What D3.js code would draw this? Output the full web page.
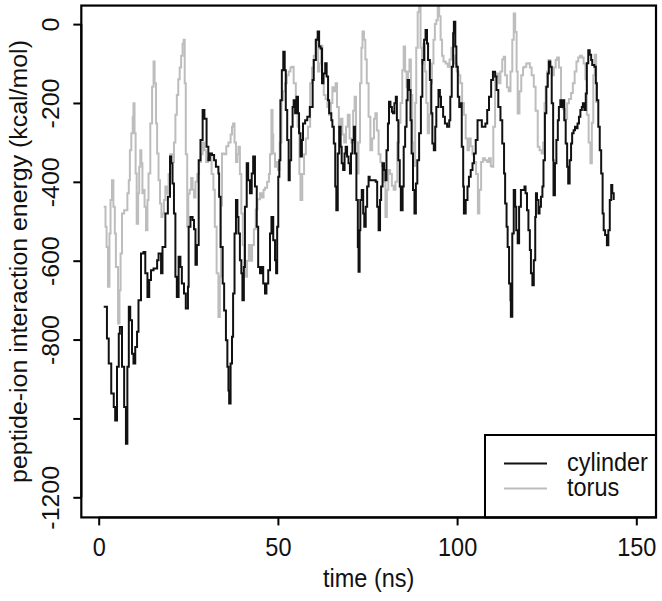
<!DOCTYPE html>
<html><head><meta charset="utf-8">
<script src="https://cdn.jsdelivr.net/npm/d3@7"></script>
<style>
body{margin:0;background:#fff}
svg{display:block}
text{font-family:"Liberation Sans",Arial,Helvetica,sans-serif;fill:#111}
</style>
</head><body>
<svg id="chart" width="662" height="601"></svg>
<script>
// ---- data ----
const cylTime = [1.4,2.3,2.8,3.5,4.2,4.6,5.1,5.6,5.9,6.5,7.1,7.6,8.0,8.4,8.8,9.3,9.7,10.2,10.7,11.1,11.8,12.5,13.0,13.6,14.1,14.6,15.3,16.3,16.7,17.4,17.8,18.6,19.3,19.9,20.2,20.6,21.0,21.4,21.8,22.3,22.8,23.2,23.8,24.3,24.9,25.1,25.6,26.2,26.6,27.0,27.4,27.9,28.4,29.0,29.5,30.1,30.6,31.0,31.6,32.2,32.7,33.4,33.6,34.0,34.6,35.0,35.5,35.9,36.2,36.4,36.8,37.2,37.5,37.9,38.3,38.7,39.0,39.4,39.8,40.1,40.5,40.8,41.3,41.7,42.2,42.7,43.1,43.6,44.1,44.5,45.0,45.4,45.9,46.4,46.8,47.3,47.8,48.2,48.7,49.2,49.5,49.8,50.1,50.4,50.7,51.1,51.5,51.9,52.2,52.6,53.0,53.3,53.7,54.1,54.4,54.8,55.2,55.6,55.9,56.3,56.7,57.0,57.6,58.2,58.9,59.7,60.0,60.6,61.1,61.5,61.9,62.3,62.7,63.2,63.6,64.0,64.3,64.9,65.2,65.6,66.0,66.3,66.7,67.1,67.5,67.8,68.2,68.6,68.9,69.3,69.7,70.1,70.4,70.8,71.2,71.5,71.9,72.3,72.5,72.8,73.0,73.4,73.8,74.1,74.5,74.9,75.3,75.6,76.2,76.8,77.3,77.7,78.1,78.5,78.8,79.2,79.6,80.0,80.3,80.7,81.0,81.4,81.8,82.1,82.5,82.9,83.2,83.6,84.0,84.3,84.8,85.1,85.5,85.9,86.2,86.6,87.0,87.3,87.7,88.1,88.5,88.9,89.4,89.9,90.3,90.8,91.2,91.6,91.9,92.4,92.8,93.1,93.5,93.9,94.2,94.8,95.2,95.5,96.1,96.6,97.2,97.8,98.1,98.5,98.9,99.1,99.5,99.8,100.2,100.6,100.9,101.3,101.7,101.9,102.4,102.9,103.3,103.8,104.3,104.7,105.2,105.7,106.3,106.9,107.4,107.9,108.4,108.9,109.5,110.0,110.6,111.0,111.5,112.1,112.6,113.1,113.4,113.8,114.1,114.5,114.9,115.0,115.4,115.8,116.2,116.5,116.9,117.3,117.8,118.2,118.8,119.1,119.5,119.9,120.3,120.6,121.0,121.4,121.8,122.0,122.3,122.7,123.0,123.4,123.8,124.1,124.5,124.9,125.3,125.6,126.0,126.4,126.8,126.9,127.3,127.7,128.1,128.4,128.8,129.2,129.5,129.9,130.3,130.7,131.0,131.4,131.8,132.1,132.5,132.9,133.3,133.6,134.0,134.4,134.8,135.1,135.5,135.9,136.2,136.6,137.0,137.4,137.7,138.3,138.7,139.0,139.4,139.8,140.2,140.6,140.9,141.3,141.8,142.2,142.6,143.0,143.3,143.7];
const cylEnergy = [-717,-797,-861,-937,-971,-1005,-869,-785,-768,-869,-971,-1064,-869,-717,-751,-836,-861,-819,-780,-700,-582,-578,-632,-692,-649,-624,-620,-599,-582,-632,-565,-480,-438,-336,-353,-404,-480,-641,-692,-590,-616,-658,-683,-721,-666,-514,-489,-497,-520,-610,-560,-345,-294,-218,-240,-311,-345,-328,-332,-345,-362,-379,-438,-565,-658,-726,-802,-869,-929,-962,-861,-793,-683,-531,-446,-489,-531,-599,-632,-700,-616,-463,-353,-396,-429,-379,-336,-412,-514,-616,-632,-616,-658,-683,-658,-624,-531,-489,-548,-599,-632,-514,-387,-345,-193,-117,-70,-117,-218,-294,-396,-345,-260,-210,-193,-226,-184,-226,-277,-336,-294,-252,-244,-235,-210,-142,-91,-40,-19,-57,-62,-150,-125,-99,-133,-193,-226,-244,-260,-303,-412,-472,-328,-260,-311,-353,-370,-328,-311,-336,-353,-379,-328,-294,-260,-328,-446,-565,-628,-523,-446,-421,-480,-514,-463,-412,-387,-396,-396,-396,-400,-463,-523,-446,-412,-353,-370,-396,-320,-252,-197,-210,-222,-226,-201,-184,-244,-345,-412,-472,-412,-311,-260,-193,-142,-167,-244,-328,-421,-480,-404,-345,-277,-184,-91,-40,-15,-49,-91,-142,-226,-303,-320,-260,-210,-167,-184,-210,-235,-252,-260,-244,-184,-108,-23,6,-57,-108,-184,-210,-201,-311,-412,-480,-446,-412,-387,-370,-353,-328,-294,-244,-244,-260,-260,-252,-218,-184,-142,-121,-133,-167,-210,-244,-303,-379,-455,-514,-565,-658,-700,-742,-531,-421,-463,-523,-556,-463,-421,-421,-412,-429,-472,-523,-573,-632,-662,-599,-489,-429,-446,-480,-463,-438,-412,-345,-226,-159,-125,-95,-108,-201,-345,-434,-353,-294,-244,-210,-193,-210,-193,-244,-303,-362,-404,-345,-303,-277,-269,-260,-264,-252,-235,-218,-210,-201,-218,-176,-99,-66,-78,-91,-104,-108,-150,-193,-260,-320,-379,-480,-523,-535,-561,-523,-446,-408,-429,-446];
const torTime = [1.4,1.9,2.2,2.6,3.0,3.3,3.7,4.1,4.5,4.8,5.4,5.8,6.1,6.5,7.1,7.6,8.0,8.4,8.7,9.1,9.5,9.7,10.0,10.3,10.6,11.0,11.3,11.6,11.9,12.2,12.5,12.8,13.2,13.6,13.9,14.4,14.9,15.3,15.6,16.0,16.3,16.7,17.1,17.5,17.8,18.2,18.6,19.0,19.5,20.0,20.5,21.0,21.4,21.8,22.2,22.6,23.0,23.4,23.7,24.0,24.3,24.7,25.0,25.4,25.8,26.2,26.6,27.0,27.5,28.0,28.5,29.0,29.5,30.0,30.5,31.0,31.5,32.0,32.4,32.9,33.4,33.8,34.1,34.4,35.0,35.6,36.2,36.8,37.2,37.5,37.9,38.3,38.7,39.0,39.4,39.8,40.2,40.6,41.0,41.4,41.9,42.4,42.8,43.3,43.8,44.3,45.0,45.5,46.0,46.4,47.0,47.5,47.8,48.2,48.5,48.7,49.2,49.6,50.0,50.5,51.0,51.5,52.0,52.5,53.0,53.5,53.9,54.4,55.0,55.5,56.0,56.3,56.8,57.3,57.8,58.4,59.0,59.5,60.0,60.5,60.9,61.2,61.6,62.0,62.4,62.8,63.3,63.8,64.3,64.8,65.2,65.7,66.1,66.5,67.0,67.5,68.0,68.5,69.0,69.5,70.0,70.5,71.0,71.4,71.8,72.1,72.5,72.9,73.3,73.6,74.0,74.4,74.8,75.3,75.8,76.3,76.8,77.2,77.6,78.1,78.6,79.0,79.5,80.0,80.4,80.8,81.3,81.8,82.3,82.8,83.3,83.8,84.2,84.7,85.1,85.5,85.9,86.3,86.7,87.1,87.5,87.9,88.3,88.6,89.0,89.4,89.8,90.2,90.6,91.0,91.4,91.8,92.2,92.6,93.0,93.4,93.8,94.2,94.6,95.0,95.4,95.8,96.2,96.8,97.4,97.9,98.4,98.9,99.4,99.9,100.4,100.9,101.4,101.9,102.4,102.9,103.3,103.8,104.3,104.8,105.3,105.8,106.2,106.7,107.2,107.8,108.4,108.9,109.4,109.7,110.1,110.6,111.1,111.6,112.1,112.6,113.0,113.4,113.9,114.4,114.9,115.4,115.8,116.2,116.6,116.9,117.4,117.9,118.4,118.8,119.3,119.8,120.3,120.8,121.4,121.9,122.5,123.0,123.6,124.0,124.4,124.7,125.1,125.5,126.0,126.5,127.0,127.5,127.9,128.4,129.0,129.5,130.1,130.7,131.2,131.8,132.3,132.8,133.3,133.8,134.3,134.8,135.3,135.8,136.2,136.7,137.2,137.6,138.0,138.4,138.8];
const torEnergy = [-463,-514,-565,-666,-531,-446,-396,-463,-531,-616,-759,-675,-582,-480,-472,-472,-429,-396,-320,-277,-235,-201,-277,-379,-506,-429,-362,-320,-353,-429,-421,-463,-523,-446,-379,-252,-159,-95,-150,-252,-328,-396,-455,-489,-480,-446,-412,-430,-380,-330,-350,-300,-230,-180,-140,-110,-80,-50,-40,-150,-330,-514,-430,-420,-390,-420,-440,-400,-380,-350,-330,-300,-320,-350,-340,-328,-380,-420,-514,-632,-743,-640,-460,-328,-330,-310,-300,-280,-260,-252,-300,-350,-330,-311,-380,-480,-560,-620,-641,-600,-560,-600,-560,-520,-470,-444,-429,-440,-420,-415,-400,-380,-330,-218,-280,-328,-362,-350,-370,-300,-193,-170,-150,-130,-120,-110,-108,-150,-200,-260,-380,-446,-380,-330,-290,-260,-150,-110,-80,-40,-36,-120,-100,-55,-130,-180,-190,-210,-230,-200,-160,-170,-150,-210,-260,-240,-280,-300,-260,-230,-290,-300,-220,-184,-300,-379,-300,-150,-60,-19,-40,-90,-150,-235,-320,-290,-240,-226,-270,-330,-350,-360,-400,-489,-420,-370,-380,-410,-420,-400,-300,-250,-200,-117,-57,-120,-160,-120,-90,-180,-300,-360,-200,-60,30,45,-60,-100,-50,-120,-200,-277,-230,-150,-100,-40,0,10,45,20,-40,-80,-95,-100,-108,-90,-60,-80,-100,-120,-130,-150,-200,-230,-290,-320,-290,-310,-330,-350,-380,-480,-420,-350,-340,-345,-350,-340,-360,-362,-260,-133,-125,-150,-120,-90,-83,-130,-160,-170,-120,-40,27,-20,-120,-227,-170,-130,-110,-108,-100,-99,-110,-130,-159,-220,-311,-320,-328,-300,-200,-159,-120,-91,-110,-130,-110,-91,-85,-110,-193,-215,-240,-201,-190,-175,-150,-120,-95,-85,-80,-85,-100,-140,-230,-300,-353,-250,-130,-78,-200];
const seriesNames = ["cylinder","torus"];
const seriesColors = ["#111111","#bdbdbd"];
const xTicks = [0,50,100,150];
const yTicks = [0,-200,-400,-600,-800,-1000,-1200];
const yTickLabels = ["0","-200","-400","-600","-800","","-1200"];
const xTitle = "time (ns)";
const yTitle = "peptide-ion interaction energy (kcal/mol)";

// ---- layout ----
const svg = d3.select("#chart");
const x = d3.scaleLinear().domain([0,150]).range([98.7,636.3]);
const y = d3.scaleLinear().domain([0,-1200]).range([24.1,497.3]);
const xLim = [-4.85,155.5], yLim = [-1251,47];
const L = x(xLim[0]), R = x(xLim[1]), T = y(yLim[1]), B = y(yLim[0]);

svg.append("defs").append("clipPath").attr("id","clip")
  .append("rect").attr("x",L).attr("y",T).attr("width",R-L).attr("height",B-T);

const fs = 23.5;
const ff = "Liberation Sans, Arial, sans-serif";

// axes
const xAxis = d3.axisBottom(x).tickValues(xTicks).tickSize(8).tickPadding(6).tickFormat(d3.format("d"));
const gx = svg.append("g").attr("transform",`translate(0,${B})`).call(xAxis);
gx.select(".domain").attr("d",`M${x(xTicks[0])},0H${x(xTicks[xTicks.length-1])}`).attr("stroke","#000").attr("stroke-width",2);
gx.selectAll(".tick line").attr("stroke","#000").attr("stroke-width",2);
gx.selectAll(".tick text").attr("font-size",fs).attr("font-family",ff).attr("fill","#111")
  .attr("y",null).attr("dy",null).attr("transform","translate(0,39) scale(1,1.06)");

const yAxis = d3.axisLeft(y).tickValues(yTicks).tickSize(8).tickFormat((d,i)=>yTickLabels[i]);
const gy = svg.append("g").attr("transform",`translate(${L},0)`).call(yAxis);
gy.select(".domain").attr("d",`M0,${y(yTicks[0])}V${y(yTicks[yTicks.length-1])}`).attr("stroke","#000").attr("stroke-width",2);
gy.selectAll(".tick line").attr("stroke","#000").attr("stroke-width",2);
gy.selectAll(".tick text")
  .attr("font-size",fs).attr("font-family",ff).attr("fill","#111")
  .attr("x",null).attr("dy",null)
  .attr("text-anchor","middle")
  .attr("transform","translate(-22,0) rotate(-90) scale(1.06,1)");

// lines
const lineGen = d3.line().x(d=>x(d[0])).y(d=>y(d[1])).curve(d3.curveStepAfter);
const plotG = svg.append("g").attr("clip-path","url(#clip)");
const series = [
  {name:seriesNames[1], pts:d3.zip(torTime,torEnergy), color:seriesColors[1]},
  {name:seriesNames[0], pts:d3.zip(cylTime,cylEnergy), color:seriesColors[0]}
];
series.forEach(s=>{
  plotG.append("path").attr("d",lineGen(s.pts)).attr("fill","none")
    .attr("stroke",s.color).attr("stroke-width",2).attr("stroke-linejoin","miter");
});

// legend
const lgL = 485, lgT = 435;
svg.append("rect").attr("x",lgL).attr("y",lgT).attr("width",R-lgL).attr("height",B-lgT)
  .attr("fill","#fff").attr("stroke","#000").attr("stroke-width",2);
seriesNames.forEach((n,i)=>{
  const yy = 463.5 + i*25;
  svg.append("line").attr("x1",504).attr("x2",547).attr("y1",yy).attr("y2",yy)
    .attr("stroke",seriesColors[i]).attr("stroke-width",2);
  svg.append("text").attr("transform",`translate(567,${yy+7.5}) scale(1,1.06)`).attr("font-size",fs).text(n);
});

// box
svg.append("rect").attr("x",L).attr("y",T).attr("width",R-L).attr("height",B-T)
  .attr("fill","none").attr("stroke","#000").attr("stroke-width",2.2);

// titles
svg.append("text").attr("transform",`translate(${(L+R)/2},587) scale(1,1.06)`).attr("text-anchor","middle").attr("font-size",fs).text(xTitle);
svg.append("text").attr("transform",`translate(27,${(T+B)/2}) rotate(-90) scale(1.06,1)`).attr("text-anchor","middle").attr("font-size",fs).text(yTitle);
</script>
</body></html>
